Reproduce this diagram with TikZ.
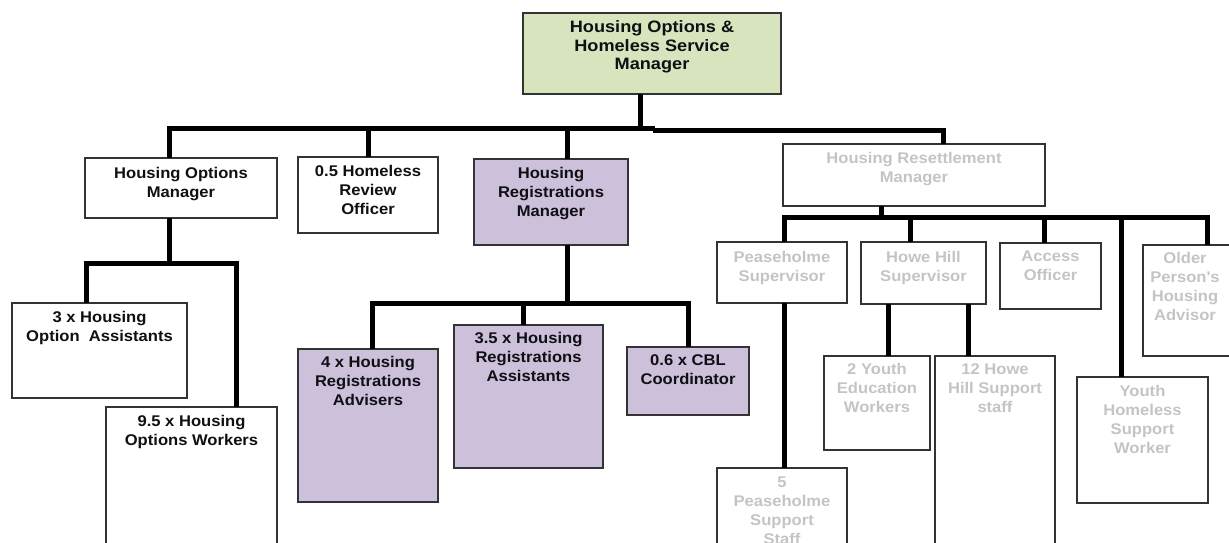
\documentclass[tikz,border=0pt]{standalone}
\usepackage{fontspec}
\newfontfamily\fa[FakeStretch=1.07]{Liberation Sans}
\newfontfamily\fb[FakeStretch=1.10]{Liberation Sans}
\definecolor{topgreen}{RGB}{215,228,189}
\definecolor{regpurple}{RGB}{204,192,218}
\definecolor{greytext}{RGB}{196,196,196}
\definecolor{darktext}{RGB}{15,15,20}
\tikzset{
  box/.style={draw=black!80, line width=1.2pt, anchor=north west, inner sep=0pt, outer sep=0pt},
  conn/.style={line width=5pt, line join=miter, black},
  txt/.style={align=center, anchor=north, inner sep=0pt, font=\fa\bfseries\fontsize{15.5}{19}\selectfont, text=darktext},
  gtxt/.style={txt, text=greytext},
  toptxt/.style={txt, font=\fb\bfseries\fontsize{16.5}{18.5}\selectfont},
}
\begin{document}
\begin{tikzpicture}[x=1pt,y=-1pt]
\useasboundingbox (0,0) rectangle (1229,542);
\clip (0,0) rectangle (1229,542);
% boxes
\node[box, fill=topgreen, minimum width=258pt, minimum height=81pt] (top) at (523,13) {};
\node[box, minimum width=192pt, minimum height=60pt] (hom) at (85,158) {};
\node[box, minimum width=140pt, minimum height=76pt] (hrro) at (298,157) {};
\node[box, fill=regpurple, minimum width=154pt, minimum height=86pt] (hrm) at (474,159) {};
\node[box, minimum width=262pt, minimum height=62pt] (hrs) at (783,144) {};
\node[box, minimum width=175pt, minimum height=95pt] (hoa) at (12,303) {};
\node[box, minimum width=171pt, minimum height=153pt] (how) at (106,407) {};
\node[box, fill=regpurple, minimum width=140pt, minimum height=153pt] (hra) at (298,349) {};
\node[box, fill=regpurple, minimum width=149pt, minimum height=143pt] (hras) at (454,325) {};
\node[box, fill=regpurple, minimum width=122pt, minimum height=68pt] (cbl) at (627,347) {};
\node[box, minimum width=130pt, minimum height=61pt] (ps) at (717,242) {};
\node[box, minimum width=125pt, minimum height=62pt] (hhs) at (861,242) {};
\node[box, minimum width=101pt, minimum height=66pt] (ao) at (1000,243) {};
\node[box, minimum width=91pt, minimum height=111pt] (op) at (1143,245) {};
\node[box, minimum width=131pt, minimum height=126pt] (yh) at (1077,377) {};
\node[box, minimum width=130pt, minimum height=92pt] (pss) at (717,468) {};
\node[box, minimum width=106pt, minimum height=94pt] (yew) at (824,356) {};
\node[box, minimum width=120pt, minimum height=204pt] (hhss) at (935,356) {};
% texts
\node[toptxt] (top-t) at ([yshift=-7.8pt]top.north) {Housing Options \&\\Homeless Service\\Manager};
\node[txt] (hom-t) at ([yshift=-8.8pt]hom.north) {Housing Options\\Manager};
\node[txt] (hrro-t) at ([yshift=-8.4pt]hrro.north) {0.5 Homeless\\Review\\Officer};
\node[txt] (hrm-t) at ([yshift=-8.4pt]hrm.north) {Housing\\Registrations\\Manager};
\node[gtxt] (hrs-t) at ([yshift=-8.4pt]hrs.north) {Housing Resettlement\\Manager};
\node[txt] (hoa-t) at ([yshift=-7.9pt]hoa.north) {3 x Housing\\Option~ Assistants};
\node[txt] (how-t) at ([yshift=-7.9pt]how.north) {9.5 x Housing\\Options Workers};
\node[txt] (hra-t) at ([yshift=-7.4pt]hra.north) {4 x Housing\\Registrations\\Advisers};
\node[txt] (hras-t) at ([yshift=-7.4pt]hras.north) {3.5 x Housing\\Registrations\\Assistants};
\node[txt] (cbl-t) at ([yshift=-7.9pt]cbl.north) {0.6 x CBL\\Coordinator};
\node[gtxt] (ps-t) at ([yshift=-8.9pt]ps.north) {Peaseholme\\Supervisor};
\node[gtxt] (hhs-t) at ([yshift=-8.9pt]hhs.north) {Howe Hill\\Supervisor};
\node[gtxt] (ao-t) at ([yshift=-7.9pt]ao.north) {Access\\Officer};
\node[gtxt] (op-t) at ([yshift=-7.4pt]1185,0 |- op.north) {Older\\Person's\\Housing\\Advisor};
\node[gtxt] (yh-t) at ([yshift=-7.9pt]yh.north) {Youth\\Homeless\\Support\\Worker};
\node[gtxt] (pss-t) at ([yshift=-8.9pt]pss.north) {5\\Peaseholme\\Support\\Staff};
\node[gtxt] (yew-t) at ([yshift=-6.9pt]yew.north) {2 Youth\\Education\\Workers};
\node[gtxt] (hhss-t) at ([yshift=-7.9pt]hhss.north) {12 Howe\\Hill Support\\staff};
% connectors: top level
\draw[conn] (640,0 |- top.south) -- (640,128);
\draw[conn] (169,0 |- hom.north) |- (655,128);
\draw[conn] (653,130) -| (943,0 |- hrs.north);
\draw[conn] (368,128) -- (368,0 |- hrro.north);
\draw[conn] (567,128) -- (567,0 |- hrm.north);
% housing options manager
\draw[conn] (169,0 |- hom.south) -- (169,263);
\draw[conn] (86,0 |- hoa.north) |- (236,263) -- (236,0 |- how.north);
% registrations manager
\draw[conn] (567,0 |- hrm.south) -- (567,303);
\draw[conn] (372,0 |- hra.north) |- (688,303) -- (688,0 |- cbl.north);
\draw[conn] (523,303) -- (523,0 |- hras.north);
% resettlement manager
\draw[conn] (881,0 |- hrs.south) -- (881,217);
\draw[conn] (784,0 |- ps.north) |- (1207,217) -- (1207,0 |- op.north);
\draw[conn] (910,217) -- (910,0 |- hhs.north);
\draw[conn] (1044,217) -- (1044,0 |- ao.north);
\draw[conn] (1121,217) -- (1121,0 |- yh.north);
\draw[conn] (784,0 |- ps.south) -- (784,0 |- pss.north);
\draw[conn] (888,0 |- hhs.south) -- (888,0 |- yew.north);
\draw[conn] (968,0 |- hhs.south) -- (968,0 |- hhss.north);
\end{tikzpicture}
\end{document}
